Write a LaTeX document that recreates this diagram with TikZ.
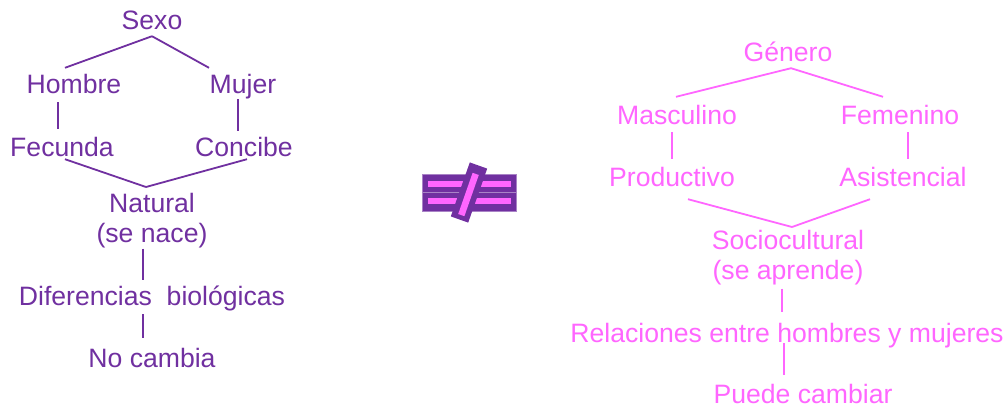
\documentclass[tikz,border=0pt]{standalone}
\usepackage{fontspec}
\setmainfont{Liberation Sans}
\usepackage{tikz}
\definecolor{sexocolor}{HTML}{7030A0}
\definecolor{generocolor}{HTML}{FF66FF}
\tikzstyle{word} = [inner xsep=0pt, inner ysep=6pt, text height=19pt, text depth=0pt, anchor=base, font=\fontsize{26.6}{30}\selectfont]
\tikzstyle{twolines} = [inner xsep=0pt, inner ysep=6pt, text depth=0pt, anchor=north, align=center, font=\fontsize{26.6}{30}\selectfont]
\tikzstyle{conn} = [line width=1.8pt]

\begin{document}
\begin{tikzpicture}[x=1pt, y=-1pt]
    \useasboundingbox (0,0) rectangle (1007,408);
    % sexo
    \begin{scope}[text=sexocolor, sexocolor]
    \node (sexo) [word] at (152,29) {Sexo};
    \node (hombre) [word] at (74,93) {Hombre};
    \node (mujer) [word] at (243,93) {Mujer};
    \node (fecunda) [word] at (62,156) {Fecunda};
    \node (concibe) [word] at (244,156) {Concibe};
    \node (natural) [twolines] at (152,187) {Natural\\(se nace)};
    \node (diferencias) [word] at (152,305) {Diferencias\ \ biológicas};
    \node (nocambia) [word] at (152,367) {No cambia};
    \draw [conn] ([yshift=-1]sexo.south) -- ([xshift=-9]hombre.north);
    \draw [conn] ([yshift=-1]sexo.south) -- ([xshift=-34]mujer.north);
    \draw [conn] ([xshift=-16,yshift=-3]hombre.south) -- ([xshift=-4,yshift=2]fecunda.north);
    \draw [conn] ([xshift=-5]mujer.south) -- ([xshift=-6]concibe.north);
    \draw [conn] ([xshift=3,yshift=3]fecunda.south) -- ([xshift=-6]natural.north);
    \draw [conn] ([xshift=3,yshift=3]concibe.south) -- ([xshift=-6]natural.north);
    \draw [conn] ([xshift=-9]natural.south) -- ([xshift=-9]diferencias.north);
    \draw [conn] ([xshift=-9,yshift=-3]diferencias.south) -- ([xshift=-9,yshift=4]nocambia.north);
    \end{scope}
    % distinto de
    \filldraw [fill=sexocolor, draw=sexocolor!60!white, line width=0.6pt] (422,174) rectangle (516,192.5);
    \filldraw [fill=sexocolor, draw=sexocolor!60!white, line width=0.6pt] (422,192.5) rectangle (516,211);
    \fill [generocolor] (428,181) rectangle (511,186.5);
    \fill [generocolor] (428,198) rectangle (511,204);
    \fill [sexocolor] (469.8,162.4) -- (487.2,168.6) -- (468.2,222.6) -- (450.8,216.4) -- cycle;
    \fill [generocolor] (472.6,172.8) -- (478.8,175.0) -- (464.4,216.2) -- (458.2,214.0) -- cycle;
    % genero
    \begin{scope}[text=generocolor, generocolor]
    \node (genero) [word] at (788,61) {Género};
    \node (masculino) [word] at (677,124) {Masculino};
    \node (femenino) [word] at (900,124) {Femenino};
    \node (productivo) [word] at (672,186) {Productivo};
    \node (asistencial) [word] at (903,186) {Asistencial};
    \node (socio) [twolines] at (788,224) {Sociocultural\\(se aprende)};
    \node (relaciones) [word] at (787,342) {Relaciones entre hombres y mujeres};
    \node (puede) [word] at (803,403) {Puede cambiar};
    \draw [conn] ([xshift=3,yshift=-1]genero.south) -- ([xshift=-1,yshift=2]masculino.north);
    \draw [conn] ([xshift=3,yshift=-1]genero.south) -- ([xshift=-17,yshift=2]femenino.north);
    \draw [conn] ([xshift=-5,yshift=-2]masculino.south) -- ([yshift=2]productivo.north);
    \draw [conn] ([xshift=8,yshift=-2]femenino.south) -- ([xshift=5,yshift=2]asistencial.north);
    \draw [conn] ([xshift=16,yshift=-7]productivo.south) -- ([xshift=4,yshift=-3]socio.north);
    \draw [conn] ([xshift=-33,yshift=-7]asistencial.south) -- ([xshift=4,yshift=-3]socio.north);
    \draw [conn] ([xshift=-6,yshift=-3]socio.south) -- ([xshift=-5,yshift=5]relaciones.north);
    \draw [conn] ([xshift=-3,yshift=5]relaciones.south) -- ([xshift=-19,yshift=3]puede.north);
    \end{scope}
\end{tikzpicture}
\end{document}
